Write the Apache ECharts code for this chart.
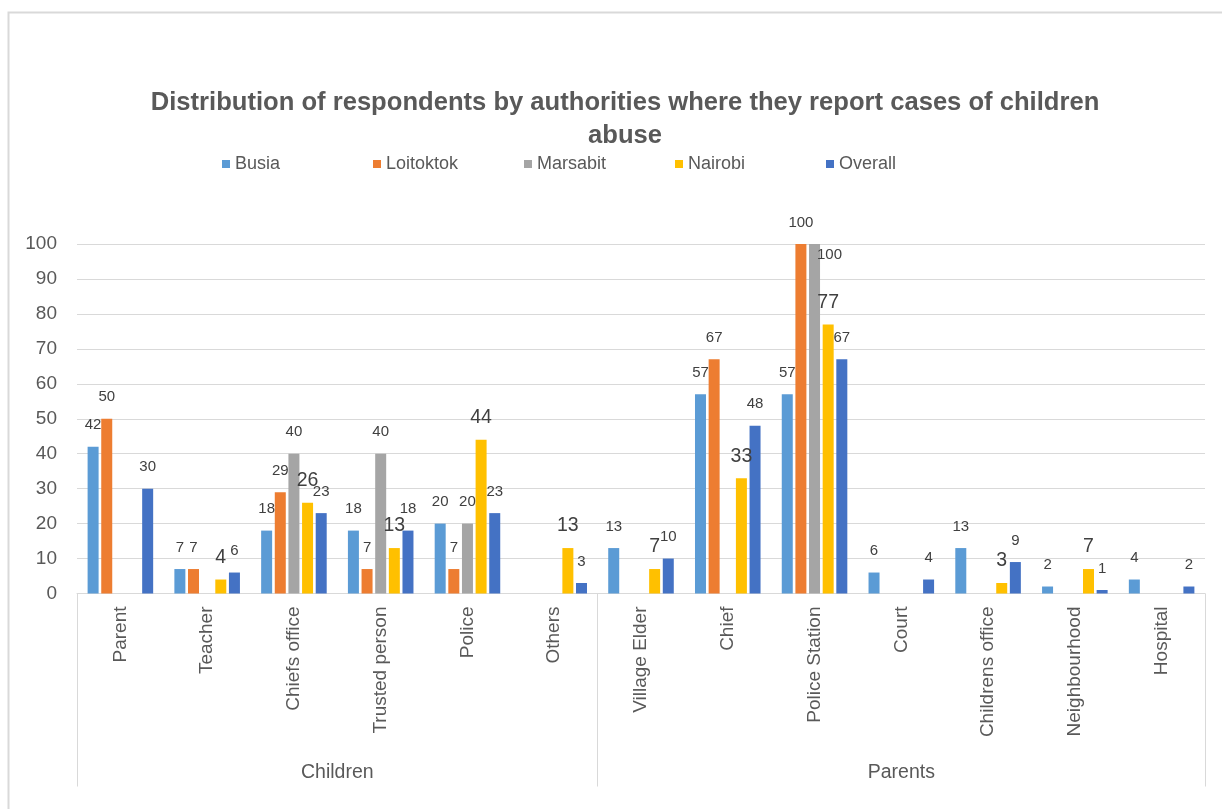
<!DOCTYPE html>
<html>
<head>
<meta charset="utf-8">
<script src="https://cdn.jsdelivr.net/npm/echarts@6/dist/echarts.min.js"></script>
<style>
html,body{margin:0;padding:0;background:#fff;}
#chart{width:1222px;height:809px;}
</style>
</head>
<body>
<div id="chart"></div>
<script>
const categories = ['Parent','Teacher','Chiefs office','Trusted person','Police','Others','Village Elder','Chief','Police Station','Court','Childrens office','Neighbourhood','Hospital'];
const groupNames = ['Children','Parents'];
const groupSizes = [6, 7];
const seriesNames = ['Busia','Loitoktok','Marsabit','Nairobi','Overall'];
const busia     = [42, 7, 18, 18, 20, null, 13, 57, 57, 6, 13, 2, 4];
const loitoktok = [50, 7, 29, 7, 7, null, null, 67, 100, null, null, null, null];
const marsabit  = [null, null, 40, 40, 20, null, null, null, 100, null, null, null, null];
const nairobi   = [null, 4, 26, 13, 44, 13, 7, 33, 77, null, 3, 7, null];
const overall   = [30, 6, 23, 18, 23, 3, 10, 48, 67, 4, 9, 1, 2];
const yMin = 0, yMax = 100, yInterval = 10;

const colors = ['#5B9BD5','#ED7D31','#A5A5A5','#FFC000','#4472C4'];
const values = [busia, loitoktok, marsabit, nairobi, overall];

// group axis built on half-category points
const halfPoints = [];
for (let i = 0; i <= categories.length * 2; i++) halfPoints.push('');
const groupLabelIdx = {}, groupBoundIdx = {0: true};
let start = 0;
groupSizes.forEach((n, g) => {
  groupLabelIdx[2 * start + n] = groupNames[g];
  start += n;
  groupBoundIdx[2 * start] = true;
});
const groupAxisData = halfPoints.map((v, i) => groupLabelIdx[i] || '');

const FONT = '"Liberation Sans", Arial, sans-serif';
const TXT = '#595959';

const labelOverrides = { '2-8': { offset: [15, 32] } };

const series = seriesNames.map((name, s) => ({
  name,
  type: 'bar',
  xAxisIndex: 0,
  barWidth: 11,
  barGap: '24%',
  itemStyle: { color: colors[s] },
  label: {
    show: true,
    position: 'top',
    distance: s === 3 ? 12 : 14,
    fontSize: s === 3 ? 19.5 : 15,
    color: '#404040',
    fontFamily: FONT
  },
  data: values[s].map((v, i) => {
    const o = labelOverrides[s + '-' + i];
    return o ? { value: v, label: o } : v;
  })
}));

const legends = seriesNames.map((name, i) => ({
  data: [name],
  left: 222 + i * 151, top: 155,
  padding: 0,
  itemWidth: 8, itemHeight: 8,
  icon: 'rect',
  textStyle: { fontSize: 18, color: TXT, fontFamily: FONT }
}));

const chart = echarts.init(document.getElementById('chart'), null, { renderer: 'canvas' });
chart.setOption({
  animation: false,
  textStyle: { fontFamily: FONT },
  graphic: [{
    type: 'rect', left: 6, top: 10,
    shape: { width: 1300, height: 900 },
    style: { fill: 'none', stroke: '#d9d9d9', lineWidth: 2 }
  }],
  title: {
    text: 'Distribution of respondents by authorities where they report cases of children\nabuse',
    left: 620, top: 81, textAlign: 'center',
    textStyle: { fontSize: 25.6, fontWeight: 'bold', color: TXT, lineHeight: 33, fontFamily: FONT }
  },
  legend: legends,
  grid: { left: 77, right: 17, top: 244, bottom: 215.5, containLabel: false },
  xAxis: [{
    type: 'category',
    data: categories,
    position: 'bottom',
    axisLine: { lineStyle: { color: '#d9d9d9' } },
    axisTick: { show: false },
    axisLabel: { rotate: 90, interval: 0, margin: 13, fontSize: 19, color: TXT, fontFamily: FONT }
  }, {
    type: 'category',
    data: groupAxisData,
    position: 'bottom',
    boundaryGap: false,
    axisLine: { show: false },
    axisTick: { show: true, length: 193, inside: false, interval: (i) => !!groupBoundIdx[i], lineStyle: { color: '#d9d9d9' } },
    axisLabel: { interval: (i) => !!groupLabelIdx[i], margin: 169, fontSize: 19.5, color: TXT, fontFamily: FONT }
  }],
  yAxis: {
    type: 'value', min: yMin, max: yMax, interval: yInterval,
    axisLine: { show: false }, axisTick: { show: false },
    splitLine: { lineStyle: { color: '#d9d9d9' } },
    axisLabel: { margin: 20, fontSize: 19, color: TXT, fontFamily: FONT }
  },
  series
});
</script>
</body>
</html>
